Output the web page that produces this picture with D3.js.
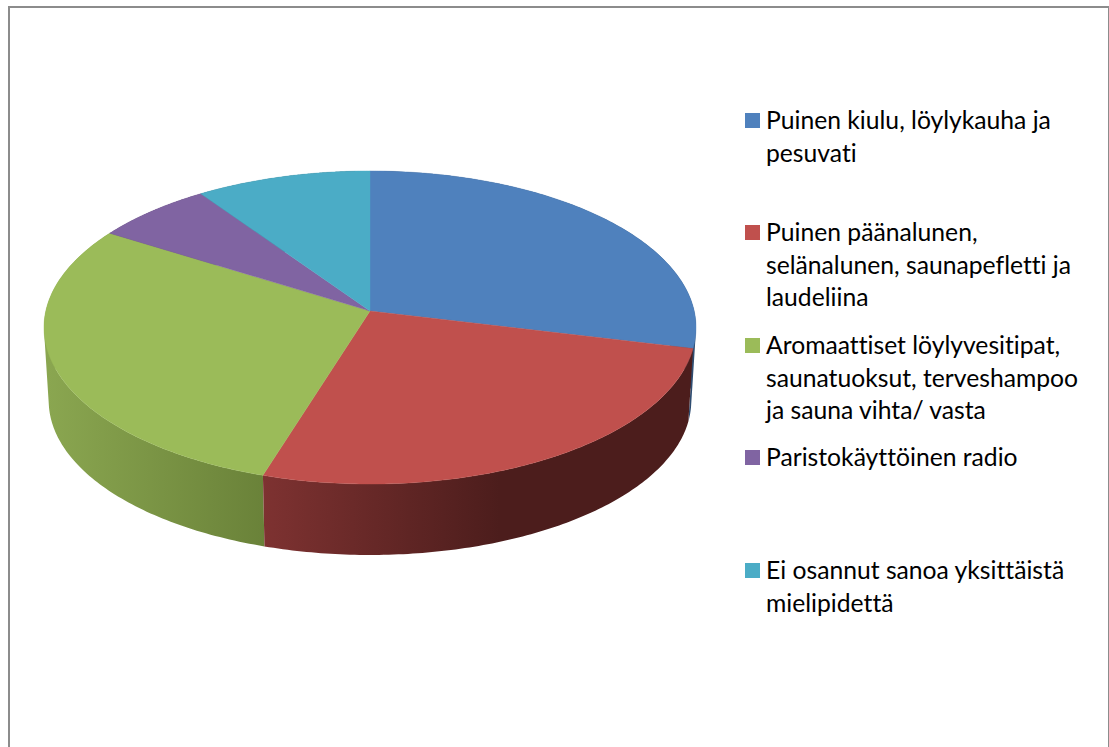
<!DOCTYPE html>
<html><head><meta charset="utf-8">
<script src="https://cdn.jsdelivr.net/npm/d3@7"></script>
<style>html,body{margin:0;padding:0;background:#fff;overflow:hidden}svg{display:block}text{font-variant-ligatures:none}</style>
</head><body><svg id="c" width="1109" height="747"></svg>
<script>
const categories = ["Puinen kiulu, löylykauha ja pesuvati","Puinen päänalunen, selänalunen, saunapefletti ja laudeliina","Aromaattiset löylyvesitipat, saunatuoksut, terveshampoo ja sauna vihta/ vasta","Paristokäyttöinen radio","Ei osannut sanoa yksittäistä mielipidettä"];
const values = [28.8, 26, 29.1, 6.5, 9.6];
const legendLines = [["Puinen kiulu, löylykauha ja","pesuvati"],["Puinen päänalunen,","selänalunen, saunapefletti ja","laudeliina"],["Aromaattiset löylyvesitipat,","saunatuoksut, terveshampoo","ja sauna vihta/ vasta"],["Paristokäyttöinen radio"],["Ei osannut sanoa yksittäistä","mielipidettä"]];
const legendTops = [121,233,346,458,571];
const colors = ["#4f81bd","#c0504d","#9bbb59","#8064a2","#4bacc6"];
const rimStops = [["#2f4d71","#2f4d71"],["#7e3231","#4c1d1c"],["#8aa650","#6a8239"],["#4d3c61","#4d3c61"],["#2d6776","#2d6776"]];
const rimOrder = [4,3,0,2,1];

const svg = d3.select("#c");
svg.append("path").attr("d","M9 747V7H1109V747").attr("fill","none").attr("stroke","#8c8c8c").attr("stroke-width",2);

const k=0.1054;
function proj(t,o){const X=Math.sin(t),Y=-Math.cos(t),d=1-k*Y;return [370+o.a*X/d,o.y0+o.b*Y/d];}
const topD={a:324.2,b:154.8,y0:311}, botD={a:319.5,b:152.5,y0:384.5};
const pie=d3.pie().sort(null).value(d=>d).startAngle(0).endAngle(2*Math.PI);
const arcs=pie(values);
const line=d3.line();
const samples=(a,b)=>d3.range(0,121).map(i=>a+(b-a)*i/120);
const defs=svg.append("defs");
arcs.forEach((s,i)=>{
  const g=defs.append("linearGradient").attr("id","rim"+i).attr("gradientUnits","userSpaceOnUse");
  if(i===1){g.attr("x1",262).attr("x2",500).attr("y1",0).attr("y2",0);}
  else {g.attr("x1",48).attr("x2",264).attr("y1",0).attr("y2",0);}
  g.append("stop").attr("offset",0).attr("stop-color",rimStops[i][0]);
  g.append("stop").attr("offset",1).attr("stop-color",rimStops[i][1]);
});
rimOrder.forEach(i=>{
  const s=arcs[i], ts=samples(s.startAngle,s.endAngle);
  const d=d3.pairs(ts).map(([a,b])=>{
    const q=[proj(a,topD),proj(b,topD),proj(b,botD),proj(a,botD)];
    if(d3.polygonArea(q)<0) q.reverse();
    return line(q)+"Z";
  }).join("");
  svg.append("path").attr("d",d).attr("fill",`url(#rim${i})`).attr("fill-rule","nonzero");
});
arcs.forEach((s,i)=>{
  const pts=[[370,topD.y0]].concat(samples(s.startAngle,s.endAngle).map(t=>proj(t,topD)));
  svg.append("path").attr("d",line(pts)+"Z").attr("fill",colors[i]).attr("stroke",colors[i]).attr("stroke-width",0.4);
});
const lh=32.5;
categories.forEach((c,i)=>{
  const y=legendTops[i];
  svg.append("rect").attr("x",745).attr("y",y-8).attr("width",15).attr("height",15).attr("fill",colors[i]);
  const t=svg.append("text").attr("font-family","Lato,'Open Sans',sans-serif").attr("font-size",24.7).attr("fill","#000");
  legendLines[i].forEach((l,j)=>t.append("tspan").attr("x",766).attr("y",y+8+j*lh).text(l));
});
</script></body></html>
